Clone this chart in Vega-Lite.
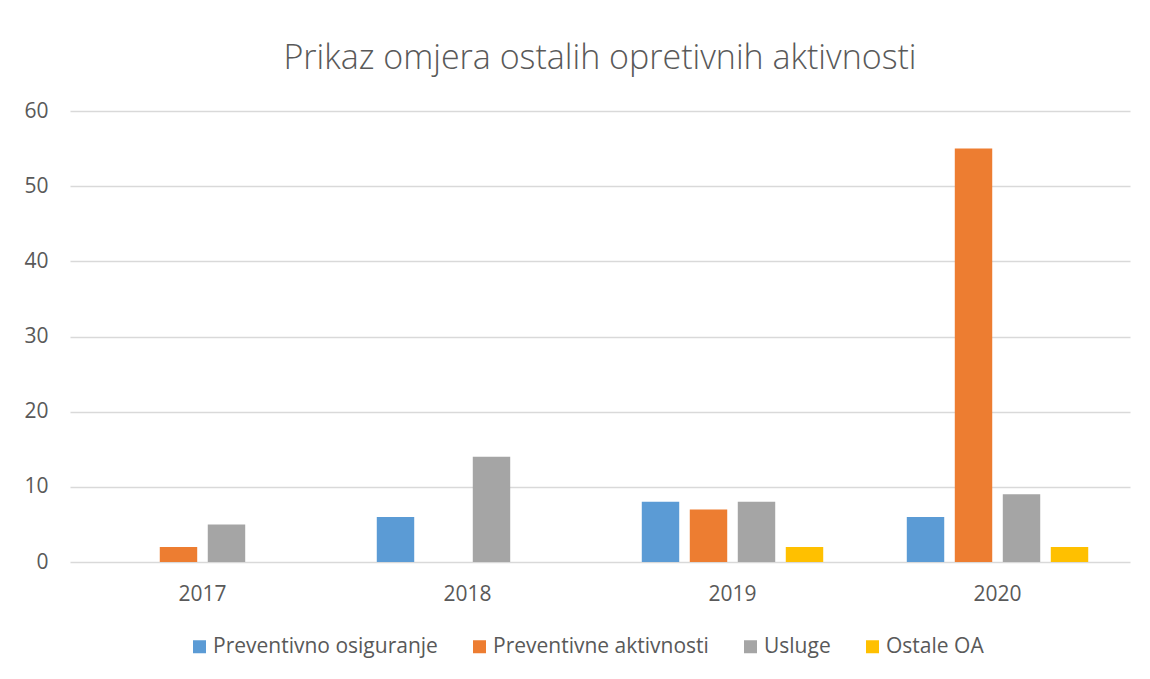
{
  "$schema": "https://vega.github.io/schema/vega-lite/v6.json",
  "autosize": {"type": "none"},
  "width": 1060,
  "height": 451,
  "padding": {"left": 70, "top": 111, "right": 20, "bottom": 117},
  "background": "white",
  "title": {
    "text": "Prikaz omjera ostalih opretivnih aktivnosti",
    "font": "Open Sans",
    "fontSize": 34,
    "fontWeight": 300,
    "color": "#595959",
    "anchor": "middle",
    "offset": 24
  },
  "data": {
    "values": [
      {"year": "2017", "series": "Preventivne aktivnosti", "value": 2},
      {"year": "2017", "series": "Usluge", "value": 5},
      {"year": "2018", "series": "Preventivno osiguranje", "value": 6},
      {"year": "2018", "series": "Usluge", "value": 14},
      {"year": "2019", "series": "Preventivno osiguranje", "value": 8},
      {"year": "2019", "series": "Preventivne aktivnosti", "value": 7},
      {"year": "2019", "series": "Usluge", "value": 8},
      {"year": "2019", "series": "Ostale OA", "value": 2},
      {"year": "2020", "series": "Preventivno osiguranje", "value": 6},
      {"year": "2020", "series": "Preventivne aktivnosti", "value": 55},
      {"year": "2020", "series": "Usluge", "value": 9},
      {"year": "2020", "series": "Ostale OA", "value": 2}
    ]
  },
  "mark": {"type": "bar"},
  "encoding": {
    "x": {
      "field": "year",
      "type": "nominal",
      "scale": {"paddingInner": 0.2755, "paddingOuter": 0.1377},
      "axis": {
        "title": null,
        "labelAngle": 0,
        "ticks": false,
        "tickSize": 0,
        "domain": false,
        "labelPadding": 21,
        "labelFont": "Open Sans",
        "labelFontSize": 21,
        "labelColor": "#595959"
      }
    },
    "xOffset": {
      "field": "series",
      "type": "nominal",
      "scale": {
        "domain": ["Preventivno osiguranje", "Preventivne aktivnosti", "Usluge", "Ostale OA"],
        "paddingInner": 0.22,
        "paddingOuter": 0.11
      }
    },
    "y": {
      "field": "value",
      "type": "quantitative",
      "scale": {"domain": [0, 60]},
      "axis": {
        "title": null,
        "values": [0, 10, 20, 30, 40, 50, 60],
        "ticks": false,
        "tickSize": 0,
        "domain": false,
        "labelPadding": 22,
        "labelFont": "Open Sans",
        "labelFontSize": 21,
        "labelColor": "#595959",
        "gridColor": "#d9d9d9",
        "gridWidth": 1.6
      }
    },
    "color": {
      "field": "series",
      "type": "nominal",
      "scale": {
        "domain": ["Preventivno osiguranje", "Preventivne aktivnosti", "Usluge", "Ostale OA"],
        "range": ["#5B9BD5", "#ED7D31", "#A5A5A5", "#FFC000"]
      },
      "legend": {
        "title": null,
        "orient": "none",
        "legendX": 119,
        "legendY": 525,
        "direction": "horizontal",
        "columns": 4,
        "columnPadding": 31,
        "symbolType": "square",
        "symbolSize": 169,
        "symbolStrokeWidth": 0,
        "labelOffset": 3,
        "labelFont": "Open Sans",
        "labelFontSize": 21,
        "labelColor": "#595959",
        "labelLimit": 400
      }
    }
  },
  "config": {
    "view": {"stroke": null}
  }
}
